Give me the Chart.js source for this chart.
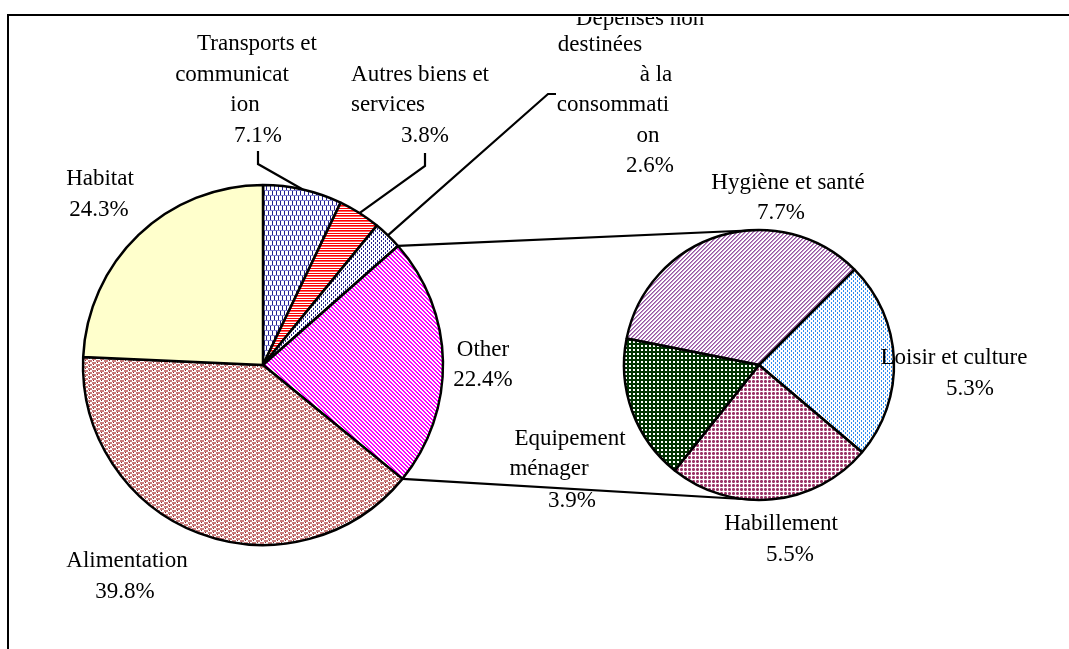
<!DOCTYPE html>
<html><head><meta charset="utf-8">
<script src="https://cdn.jsdelivr.net/npm/chart.js@4.4.1/dist/chart.umd.min.js"></script>
<style>
html,body{margin:0;padding:0;background:#fff;}
#wrap{position:relative;width:1069px;height:649px;overflow:hidden;background:#fff;}
#wrap canvas{position:absolute;left:0;top:0;}
</style></head><body>
<div id="wrap"><canvas id="mainPie" width="1069" height="649"></canvas><canvas id="subPie" width="1069" height="649"></canvas></div>
<script>
// ---- data ----
const mainCategories = ['Transports et communication', 'Autres biens et services', 'Dépenses non destinées à la consommation', 'Other', 'Alimentation', 'Habitat'];
const mainValues = [7.1, 3.8, 2.6, 22.4, 39.8, 24.3];
const mainLabelLines = [['Transports et', 'communicat', 'ion'], ['Autres biens et', 'services'], ['Dépenses non', 'destinées', 'à la', 'consommati', 'on'], ['Other'], ['Alimentation'], ['Habitat']];
const subCategories = ['Hygiène et santé', 'Loisir et culture', 'Habillement', 'Equipement ménager'];
const subValues = [7.7, 5.3, 5.5, 3.9];
const subLabelLines = [['Hygiène et santé'], ['Loisir et culture'], ['Habillement'], ['Equipement', 'ménager']];

// ---- patterns ----
function makePattern(w, h, fn) {
  const c = document.createElement('canvas'); c.width = w; c.height = h;
  const g = c.getContext('2d'); g.fillStyle = '#fff'; g.fillRect(0, 0, w, h);
  for (let y = 0; y < h; y++) for (let x = 0; x < w; x++) { const col = fn(x, y); if (col) { g.fillStyle = col; g.fillRect(x, y, 1, 1); } }
  return g.createPattern(c, 'repeat');
}
const pTransports = makePattern(8, 10, (x, y) => y % 5 === 0 ? '#8080d0' : (x % 4 === (y < 5 ? 0 : 2) ? '#1f1f8f' : null));
const pAutres = makePattern(1, 5, (x, y) => [ '#ff0000', '#ff6060', null, '#ff0000', null ][y]);
const pDepenses = makePattern(4, 4, (x, y) => ((x === 1 && y < 2) || (x === 3 && y >= 2)) ? '#262690' : null);
const pOther = makePattern(4, 4, (x, y) => (((x - y) % 4 + 4) % 4 < 2) ? '#ff00ff' : null);
const L = '#c97c7c', D = '#8b2a2a';
const alimTile = [[L,L,L,L,null,D,null,null],[L,L,L,L,null,null,null,null],[null,D,null,null,L,L,L,L],[null,null,null,null,L,L,L,L]];
const pAlim = makePattern(8, 4, (x, y) => alimTile[y][x]);
const pHabitat = '#ffffcc';
const pHygiene = makePattern(4, 4, (x, y) => ((x + y) % 4 === 0) ? '#94589f' : (((x + y) % 4 === 1) ? '#c08ccb' : null));
const pLoisir = makePattern(4, 4, (x, y) => ((x === 1 && y < 2) || (x === 3 && y >= 2)) ? '#2f8cf0' : null);
const pHabill = makePattern(4, 4, (x, y) => (x < 3 && y < 3) ? (((x === 1) || (y === 1)) ? '#993366' : '#c27a9e') : null);
const pEquip = makePattern(4, 4, (x, y) => (x >= 1 && x <= 2 && y >= 1 && y <= 2) ? null : '#003300');

const FONT = '23px "Liberation Serif", "Times New Roman", serif';

const mainChart = new Chart(document.getElementById('mainPie'), {
  type: 'pie',
  data: { labels: mainCategories, datasets: [{ data: mainValues,
    backgroundColor: [pTransports, pAutres, pDepenses, pOther, pAlim, pHabitat],
    borderColor: '#000', borderWidth: 2.5, hoverOffset: 0, rotation: 0, radius: 180 }] },
  options: { responsive: false, animation: false, devicePixelRatio: 1, events: [],
    layout: { padding: { left: 0, right: 543, top: 81, bottom: 0 } },
    plugins: { legend: { display: false }, tooltip: { enabled: false } } }
});

function midPoint(arc) {
  const a = (arc.startAngle + arc.endAngle) / 2;
  return [arc.x + Math.cos(a) * arc.outerRadius, arc.y + Math.sin(a) * arc.outerRadius];
}
function drawLabels(ctx, lines, values, layout) {
  ctx.font = FONT; ctx.fillStyle = '#000'; ctx.textAlign = 'center'; ctx.textBaseline = 'alphabetic';
  lines.forEach((ls, i) => {
    const all = ls.concat([values[i].toFixed(1) + '%']);
    const lay = layout[i];
    all.forEach((t, k) => ctx.fillText(t, lay.x[k], lay.y[k]));
  });
}

const overlayPlugin = {
  id: 'pieOfPie',
  afterDatasetsDraw(chart, args, opts) {
    const ctx = chart.ctx;
    const mMeta = mainChart.getDatasetMeta(0);
    const sArcs = chart.getDatasetMeta(0).data;
    const other = mMeta.data[3];
    const s0 = sArcs[0];
    ctx.save();
    ctx.strokeStyle = '#000'; ctx.lineWidth = 2.2; ctx.lineCap = 'butt';
    // connector lines between the "Other" slice and the secondary pie
    ctx.beginPath();
    ctx.moveTo(other.x + Math.cos(other.startAngle) * other.outerRadius, other.y + Math.sin(other.startAngle) * other.outerRadius);
    ctx.lineTo(s0.x, s0.y - s0.outerRadius);
    ctx.moveTo(other.x + Math.cos(other.endAngle) * other.outerRadius, other.y + Math.sin(other.endAngle) * other.outerRadius);
    ctx.lineTo(s0.x, s0.y + s0.outerRadius);
    ctx.stroke();
    // leader lines
    opts.mainLayout.forEach((lay, i) => {
      if (!lay.leader) return;
      const [ex, ey] = midPoint(mMeta.data[i]);
      ctx.beginPath();
      ctx.moveTo(lay.leader[0][0], lay.leader[0][1]);
      ctx.lineTo(lay.leader[1][0], lay.leader[1][1]);
      ctx.lineTo(ex, ey);
      ctx.stroke();
    });
    // labels (clipped to the chart frame)
    ctx.beginPath(); ctx.rect(9, 17, chart.width, chart.height); ctx.clip();
    drawLabels(ctx, mainLabelLines, mainValues, opts.mainLayout);
    drawLabels(ctx, subLabelLines, subValues, opts.subLayout);
    ctx.restore();
    // frame
    ctx.save();
    ctx.strokeStyle = '#000'; ctx.lineWidth = 2;
    ctx.beginPath(); ctx.moveTo(chart.width, 15); ctx.lineTo(8, 15); ctx.lineTo(8, chart.height); ctx.stroke();
    ctx.restore();
  }
};

const subChart = new Chart(document.getElementById('subPie'), {
  type: 'pie',
  data: { labels: subCategories, datasets: [{ data: subValues,
    backgroundColor: [pHygiene, pLoisir, pHabill, pEquip],
    borderColor: '#000', borderWidth: 2.5, hoverOffset: 0, rotation: 281.3, radius: 135 }] },
  options: { responsive: false, animation: false, devicePixelRatio: 1, events: [],
    layout: { padding: { left: 449, right: 0, top: 81, bottom: 0 } },
    plugins: { legend: { display: false }, tooltip: { enabled: false },
      pieOfPie: {
        mainLayout: [
          { x: [257, 232, 245, 258], y: [50, 81, 111, 142], leader: [[258, 151], [258, 164]] },
          { x: [420, 388, 425], y: [81, 111, 142], leader: [[425, 153], [425, 166]] },
          { x: [640, 600, 656, 613, 648, 650], y: [25, 51, 81, 111, 142, 172], leader: [[556, 94], [548, 94]] },
          { x: [483, 483], y: [356, 386] },
          { x: [127, 125], y: [567, 598] },
          { x: [100, 99], y: [185, 216] }
        ],
        subLayout: [
          { x: [788, 781], y: [189, 219] },
          { x: [954, 970], y: [364, 395] },
          { x: [781, 790], y: [530, 561] },
          { x: [570, 549, 572], y: [445, 475, 507] }
        ]
      } } },
  plugins: [overlayPlugin]
});
</script>
</body></html>
